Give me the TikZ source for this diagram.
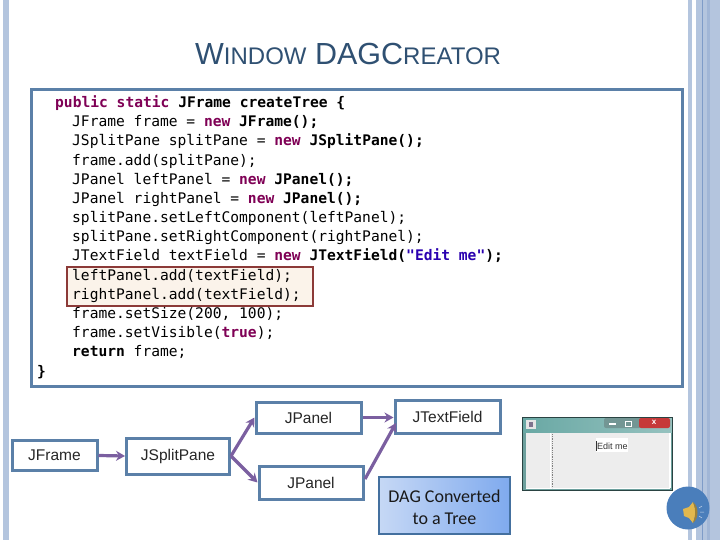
\documentclass[tikz,border=0pt]{standalone}
\usepackage{fontspec}
\setmainfont{Liberation Sans}
\setmonofont{DejaVu Sans Mono}
\newfontfamily\notefont{Carlito}
\usetikzlibrary{arrows.meta}
\definecolor{stripe}{HTML}{B4C5DE}
\definecolor{stripedark}{HTML}{7F9CC8}
\definecolor{boxline}{HTML}{5B80A8}
\definecolor{arrowc}{HTML}{7B5FA0}
\definecolor{titlec}{HTML}{2F5072}
\definecolor{redline}{HTML}{8C3A38}
\definecolor{redfill}{HTML}{FBF3EA}
\definecolor{kw}{HTML}{7F0055}
\definecolor{str}{HTML}{2A00B0}
\definecolor{wintop}{HTML}{69A8A4}
\definecolor{winbody}{HTML}{EDEDED}
\definecolor{noteline}{HTML}{44709F}
\definecolor{noteleft}{HTML}{C6D8F5}
\definecolor{noteright}{HTML}{7FAAEE}
\definecolor{spk}{HTML}{4A7EBB}
\definecolor{gold}{HTML}{E2B84E}
\newcommand{\K}[1]{\textcolor{kw}{\textbf{#1}}}
\newcommand{\B}[1]{\textbf{#1}}
\newcommand{\TS}[1]{{\fontsize{24}{28}\selectfont #1}}
\tikzset{
 codeline/.style={anchor=base west,inner sep=0pt,font=\ttfamily\fontsize{14.6}{17}\selectfont},
 treebox/.style={draw=boxline,line width=3pt,fill=white,inner sep=0pt,font=\fontsize{15.5}{18}\selectfont,text=black!85},
 link/.style={draw=arrowc,line width=3.2pt,-{Stealth[length=9pt,width=10pt]}},
}
\begin{document}
\begin{tikzpicture}[x=1pt,y=-1pt]
\useasboundingbox (0,0) rectangle (720,540);
% side stripes
\fill[stripe] (3,0) rectangle (9,540);
\fill[stripe] (688,0) rectangle (692,540);
\fill[stripe] (696,0) rectangle (720,540);
\draw[stripedark,line width=0.7pt] (702,0) -- (702,540);
\fill[stripedark,opacity=.35] (707,0) rectangle (710,540);
% title
\node[anchor=base west,inner sep=0pt,text=titlec,font=\fontsize{30.5}{34}\selectfont] (title) at (195,64.5)
  {W\TS{INDOW} DAGC\TS{REATOR}};
% code box
\node[draw=boxline,line width=3pt,fill=white,minimum width=651pt,minimum height=297pt,inner sep=0pt,anchor=north west] (codebox) at (30,88) {};
\node[draw=redline,line width=2pt,fill=redfill,minimum width=246pt,minimum height=39pt,inner sep=0pt,anchor=north west] (hl) at (66,266) {};
% code
\node[codeline] (c1) at (55,107.6) {\K{public static} \B{JFrame createTree \{}};
\node[codeline] (c2) at (72,126.8) {JFrame frame = \K{new} \B{JFrame();}};
\node[codeline] (c3) at (72,146) {JSplitPane splitPane = \K{new} \B{JSplitPane();}};
\node[codeline] (c4) at (72,165.1) {frame.add(splitPane);};
\node[codeline] (c5) at (72,184.3) {JPanel leftPanel = \K{new} \B{JPanel();}};
\node[codeline] (c6) at (72,203.4) {JPanel rightPanel = \K{new} \B{JPanel();}};
\node[codeline] (c7) at (72,222.6) {splitPane.setLeftComponent(leftPanel);};
\node[codeline] (c8) at (72,241.7) {splitPane.setRightComponent(rightPanel);};
\node[codeline] (c9) at (72,260.9) {JTextField textField = \K{new} \B{JTextField(}\textcolor{str}{\textbf{"Edit me"}}\B{);}};
\node[codeline] (c10) at (72,280) {leftPanel.add(textField);};
\node[codeline] (c11) at (72,299.2) {rightPanel.add(textField);};
\node[codeline] (c12) at (72,318.3) {frame.setSize(200, 100);};
\node[codeline] (c13) at (72,337.5) {frame.setVisible(\K{true});};
\node[codeline] (c14) at (72,356.6) {\B{return} frame;};
\node[codeline] (c15) at (37,376.5) {\B{\}}};
% tree
\node[treebox,minimum width=85pt,minimum height=30pt] (frame) at (54.5,455.5) {JFrame};
\node[treebox,minimum width=103pt,minimum height=36pt] (split) at (178,456) {JSplitPane};
\node[treebox,minimum width=105pt,minimum height=31pt] (p1) at (308.5,417.5) {JPanel};
\node[treebox,minimum width=104pt,minimum height=33pt] (p2) at (311,482.5) {JPanel};
\node[treebox,minimum width=105pt,minimum height=33pt] (tf) at (447.5,416.5) {JTextField};
\coordinate (p2out) at (365,479);
\coordinate (tfin) at (396,423);
\draw[link] (frame.east) -- (split.west);
\draw[link] (split.east) -- (p1.west);
\draw[link] (split.east) -- (p2.west);
\draw[link] (p1.east) -- (tf.west |- p1.east);
\draw[link] (p2out) -- (tfin);
% DAG note
\node[draw=noteline,line width=2.4pt,left color=noteleft,right color=noteright,minimum width=131pt,minimum height=57pt,inner sep=0pt,align=center,text=black!90,font=\notefont\fontsize{18}{22}\selectfont] (note) at (444.5,505.5) {\rule{0pt}{16pt}DAG Converted\\to a Tree};
% window screenshot
\shade[left color=wintop,right color=wintop!70!white] (522,417) rectangle (672,433);
\fill[wintop!80!gray] (522,433) rectangle (672,490);
\fill[winbody] (526,433) rectangle (669,488);
\draw[black!60!wintop,line width=.8pt] (522,417) rectangle (672,490);
\fill[white] (526,487.5) rectangle (670,489);
\fill[white] (669,433) rectangle (670.5,488);
\fill[white] (549.5,433) rectangle (551,488);
\draw[gray,densely dotted,line width=.8pt] (552.5,434) -- (552.5,488);
\fill[white!90!black] (526,420) rectangle (536,429);
\fill[arrowc!40!gray] (529,422) rectangle (533,427);
\fill[wintop!55!gray,rounded corners=2pt] (604,418) rectangle (641,428);
\fill[red!55!gray,rounded corners=2pt] (639,418) rectangle (670,428);
\fill[white] (609,423) rectangle (616,425);
\draw[white,line width=.8pt] (625,421) rectangle (631,426);
\node[text=white,inner sep=0pt,font=\bfseries\fontsize{8}{9}\selectfont] (xbtn) at (654,422) {x};
\fill[white] (596,438) rectangle (628,452);
\node[anchor=west,inner sep=0pt,text=black!80,font=\fontsize{9}{10}\selectfont] (edit) at (597,446) {Edit me};
\draw[black!80,line width=.7pt] (596.5,441) -- (596.5,451);
% speaker
\fill[spk] (688,508) circle (21.5);
\fill[gold] (683,509) -- (689,507) -- (693,502) -- (696,512) -- (693,523) -- (689,518) -- (684,516) -- cycle;
\fill[gold!70!black] (693,502) .. controls (699,507) and (699,518) .. (693,523) .. controls (696,516) and (696,509) .. (693,502);
\draw[white!70!spk,line width=.5pt] (699,508) -- (702,506) (700,512) -- (704,512) (699,516) -- (702,518);
\end{tikzpicture}
\end{document}
